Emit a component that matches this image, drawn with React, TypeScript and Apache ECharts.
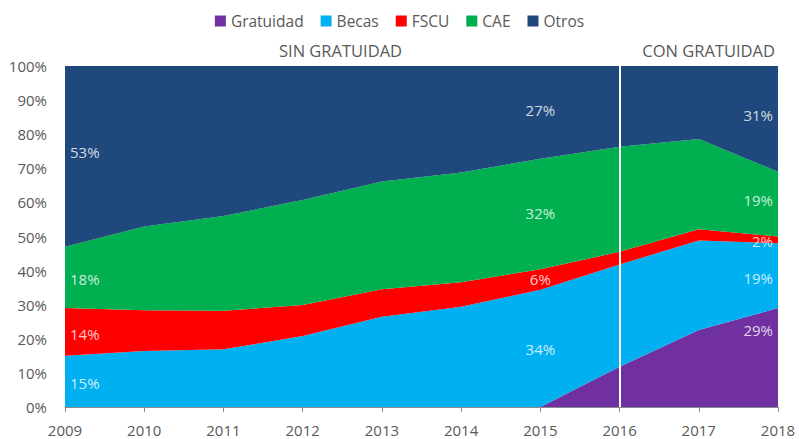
import React, { useEffect, useRef } from "react";
import * as echarts from "echarts";

const years = ["2009", "2010", "2011", "2012", "2013", "2014", "2015", "2016", "2017", "2018"];
const seriesNames = ["Gratuidad", "Becas", "FSCU", "CAE", "Otros"];
const colors = ["#7030A0", "#00B0F0", "#FF0000", "#00B050", "#1F497D"];

const gratuidad = [0, 0, 0, 0, 0, 0, 0, 11.8, 22.6, 29];
const becas = [15, 16.4, 16.9, 20.8, 26.5, 29.4, 34.4, 30, 26.2, 19];
const fscu = [14, 12, 11.3, 9.1, 8, 7.2, 6, 3.7, 3.3, 2];
const cae = [18, 24.5, 27.8, 30.8, 31.6, 32.2, 32.4, 30.8, 26.5, 19];
const otros = [53, 47.1, 44, 39.3, 33.9, 31.2, 27.2, 23.7, 21.4, 31];

const allSeries = [gratuidad, becas, fscu, cae, otros];

// which points carry a value label: [seriesIndex, yearIndex, vertical pixel nudge]
const labelPoints: [number, number, number][] = [
  [1, 0, 2], [2, 0, 2], [3, 0, 2], [4, 0, -4],
  [1, 6, 1], [2, 6, 0], [3, 6, -1], [4, 6, -2],
  [0, 9, -28], [1, 9, 2], [2, 9, 1], [3, 9, -4], [4, 9, -4],
];

const periodLabels = ["SIN GRATUIDAD", "CON GRATUIDAD"];
const dividerYear = "2016";

const FONT = "'Open Sans', 'Noto Sans', sans-serif";
const GRAY = "#595959";

export default function App() {
  const ref = useRef<HTMLDivElement>(null);

  useEffect(() => {
    if (!ref.current) return;
    const chart = echarts.init(ref.current, undefined, { renderer: "svg" });

    const labelData = labelPoints.map(([s, i, nudge]) => {
      let below = 0;
      for (let k = 0; k < s; k++) below += allSeries[k][i];
      const v = allSeries[s][i];
      const isFirst = i === 0;
      const isLast = i === years.length - 1;
      return {
        value: [i, below + v / 2],
        label: {
          formatter: Math.round(v) + "%",
          align: isFirst ? "left" : isLast ? "right" : "center",
          offset: [isFirst ? 5 : isLast ? -5 : 0, nudge],
        },
      };
    });

    const areaSeries = seriesNames.map((name, idx) => ({
      name,
      type: "line",
      stack: "total",
      data: allSeries[idx],
      symbol: "none",
      showSymbol: false,
      lineStyle: { width: 0 },
      areaStyle: { color: colors[idx], opacity: 1 },
      itemStyle: { color: colors[idx] },
      z: 2,
      ...(idx === seriesNames.length - 1
        ? {
            markLine: {
              silent: true,
              symbol: "none",
              label: { show: false },
              lineStyle: { color: "#ffffff", width: 2, type: "solid" },
              data: [{ xAxis: dividerYear }],
              z: 5,
            },
          }
        : {}),
    }));

    chart.setOption({
      animation: false,
      textStyle: { fontFamily: FONT },
      legend: {
        top: 8,
        left: "center",
        data: seriesNames,
        icon: "rect",
        itemWidth: 11,
        itemHeight: 11,
        itemGap: 17,
        textStyle: { color: GRAY, fontSize: 15.5, fontFamily: FONT },
      },
      grid: { left: 65, right: 21, top: 66, bottom: 32, containLabel: false },
      xAxis: {
        type: "category",
        data: years,
        boundaryGap: false,
        axisLine: { show: true, lineStyle: { color: "#8c8c8c", width: 1 } },
        axisTick: { show: true, length: 5, lineStyle: { color: "#8c8c8c" } },
        axisLabel: { color: GRAY, fontSize: 15, margin: 15, fontFamily: FONT },
        splitLine: { show: false },
        z: 10,
      },
      yAxis: {
        type: "value",
        min: 0,
        max: 100,
        interval: 10,
        axisLine: { show: true, lineStyle: { color: "#c9d3df", width: 1 } },
        axisTick: { show: false },
        axisLabel: { color: GRAY, fontSize: 15, margin: 18, formatter: "{value}%", fontFamily: FONT },
        splitLine: { show: false },
      },
      graphic: [
        {
          type: "text",
          left: 279,
          top: 42,
          style: { text: periodLabels[0], fill: GRAY, font: `16.5px ${FONT}` },
        },
        {
          type: "text",
          right: 24,
          top: 42,
          style: { text: periodLabels[1], fill: GRAY, font: `16.5px ${FONT}` },
        },
      ],
      series: [
        ...areaSeries,
        {
          name: "labels",
          type: "scatter",
          symbolSize: 0,
          silent: true,
          z: 20,
          data: labelData,
          label: {
            show: true,
            position: "inside",
            color: "#ffffff",
            fontSize: 15,
            fontFamily: FONT,
          },
        },
      ],
    });

    return () => chart.dispose();
  }, []);

  return <div ref={ref} style={{ width: 799, height: 439, position: "absolute", left: 0, top: 0 }} />;
}
